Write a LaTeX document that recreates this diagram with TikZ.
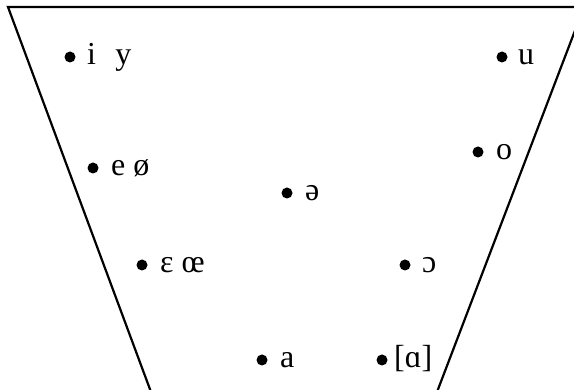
\documentclass[tikz,border=0pt]{standalone}
\usepackage{fontspec}
\setmainfont{Liberation Serif}

\tikzset{
  dot/.style={circle, fill, inner sep=0pt, minimum size=11pt},
  sound/.style={anchor=base west, inner sep=0pt, font=\fontsize{32}{36}\selectfont}
}

\begin{document}
\begin{tikzpicture}[x=1pt, y=-1pt]

% Frame
\useasboundingbox (0,0) rectangle (574,390);
\clip (0,0) rectangle (574,390);

% Trapezoid corners
\coordinate (topleft) at (8,7);
\coordinate (topright) at (584,7);
\coordinate (botleft) at (151,392);
\coordinate (botright) at (437,392);
\draw[line width=2.2pt] (botleft) -- (topleft) -- (topright) -- (botright);

% Front vowels
\node[dot] (i) at (70,57) {};
\node[sound] (i-text) at ([shift={(17,8)}]i.center) {i\hspace{0.6em}y};
\node[dot] (e) at (93,168) {};
\node[sound] (e-text) at ([shift={(18,8)}]e.center) {e ø};
\node[dot] (eps) at (142,265) {};
\node[sound] (eps-text) at ([shift={(18,8)}]eps.center) {ɛ œ};

% Central vowels
\node[dot] (schwa) at (287,193) {};
\node[sound] (schwa-text) at ([shift={(18,8)}]schwa.center) {ə};
\node[dot] (a) at (262,360) {};
\node[sound] (a-text) at ([shift={(18,8)}]a.center) {a};

% Back vowels
\node[dot] (u) at (502,57) {};
\node[sound] (u-text) at ([shift={(16,8)}]u.center) {u};
\node[dot] (o) at (478,152) {};
\node[sound] (o-text) at ([shift={(18,8)}]o.center) {o};
\node[dot] (openo) at (405,265) {};
\node[sound] (openo-text) at ([shift={(17,8)}]openo.center) {ɔ};
\node[dot] (alpha) at (382,360) {};
\node[sound] (alpha-text) at ([shift={(12,8)}]alpha.center) {[ɑ]};

\end{tikzpicture}
\end{document}
